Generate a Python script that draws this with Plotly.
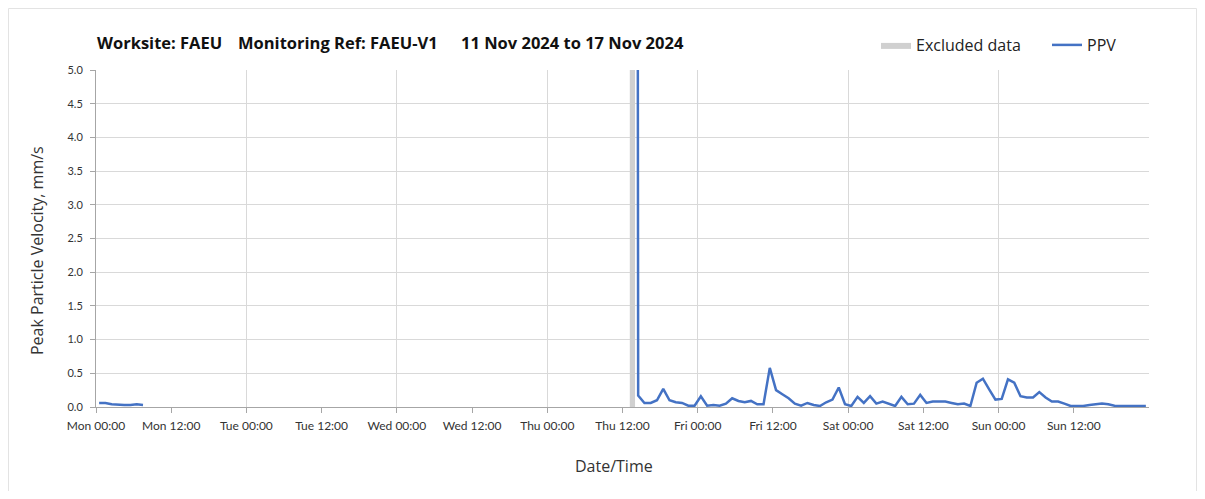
import pandas as pd
import plotly.graph_objects as go

# ---------------- data ----------------
title_parts = ["Worksite: FAEU", "Monitoring Ref: FAEU-V1", "11 Nov 2024 to 17 Nov 2024"]
x_title = "Date/Time"
y_title = "Peak Particle Velocity, mm/s"

x_range = ["2024-11-11 00:00", "2024-11-18 00:00"]

tick_times = pd.date_range("2024-11-11 00:00", periods=14, freq="12h")
tick_labels = ["Mon 00:00", "Mon 12:00", "Tue 00:00", "Tue 12:00", "Wed 00:00", "Wed 12:00",
               "Thu 00:00", "Thu 12:00", "Fri 00:00", "Fri 12:00", "Sat 00:00", "Sat 12:00",
               "Sun 00:00", "Sun 12:00"]
grid_times = pd.date_range("2024-11-11 00:00", periods=8, freq="24h")

# Monday readings (hourly)
mon_start = "2024-11-11 00:30"
mon_ppv = [0.06, 0.06, 0.04, 0.03, 0.03, 0.03, 0.04, 0.03]

# Large event just after the excluded period
spike_time = "2024-11-14 14:22"
spike_ppv = 12.0

# Thursday afternoon to Sunday (hourly)
late_start = "2024-11-14 14:30"
late_ppv = [0.17, 0.06, 0.06, 0.10, 0.27, 0.10, 0.07, 0.06, 0.02, 0.02,
            0.16, 0.02, 0.03, 0.02, 0.05, 0.13, 0.09, 0.07, 0.09, 0.04,
            0.04, 0.58, 0.25, 0.19, 0.13, 0.05, 0.02, 0.06, 0.03, 0.015,
            0.07, 0.11, 0.29, 0.04, 0.015, 0.15, 0.06, 0.16, 0.05, 0.08,
            0.05, 0.015, 0.15, 0.04, 0.05, 0.18, 0.06, 0.08, 0.08, 0.08,
            0.06, 0.04, 0.05, 0.015, 0.36, 0.42, 0.26, 0.11, 0.12, 0.41,
            0.36, 0.16, 0.14, 0.14, 0.22, 0.14, 0.08, 0.08, 0.05, 0.015,
            0.015, 0.015, 0.03, 0.04, 0.05, 0.04, 0.02, 0.015, 0.015, 0.015,
            0.015, 0.015]

excluded_start = "2024-11-14 13:10"
excluded_end = "2024-11-14 14:00"
y_max = 5.0

# ---------------- build series ----------------
mon_times = list(pd.date_range(mon_start, periods=len(mon_ppv), freq="1h"))
late_times = list(pd.date_range(late_start, periods=len(late_ppv), freq="1h"))
ppv_x = mon_times + [None] + [pd.Timestamp(spike_time)] + late_times
ppv_y = mon_ppv + [None] + [spike_ppv] + late_ppv

BLUE = "#4472C4"
GRID = "#d9d9d9"
AXIS = "#a6a6a6"
TICKFONT = "Lato"
TEXTFONT = "Open Sans"

W, H = 1189, 483
ML, MR, MT, MB = 88, 48, 62, 84
PW, PH = W - ML - MR, H - MT - MB


def px_x(px):
    return (px - ML) / PW


def px_y(py):
    return (H - MB - py) / PH


fig = go.Figure()

fig.add_trace(go.Scatter(
    x=[excluded_start, excluded_end, excluded_end, excluded_start, excluded_start],
    y=[0, 0, y_max, y_max, 0],
    mode="lines", fill="toself", fillcolor="#d0d0d0",
    line=dict(width=0, color="#d0d0d0"),
    name="Excluded data", hoverinfo="skip",
))

fig.add_trace(go.Scatter(
    x=ppv_x, y=ppv_y, mode="lines", connectgaps=False,
    line=dict(color=BLUE, width=2.5),
    name="PPV",
))

# invisible trace to carry the daily-grid overlay axis
fig.add_trace(go.Scatter(x=[x_range[0]], y=[0], xaxis="x2", mode="markers",
                         marker=dict(opacity=0), showlegend=False, hoverinfo="skip"))

fig.update_layout(
    width=W, height=H,
    margin=dict(l=ML, r=MR, t=MT, b=MB, autoexpand=False),
    paper_bgcolor="white", plot_bgcolor="white",
    font=dict(family=TEXTFONT, color="#333333"),
    showlegend=True,
    legend=dict(orientation="h", x=px_x(868), xanchor="left", y=px_y(37), yanchor="middle",
                font=dict(size=16, color="#222222", family=TEXTFONT), bgcolor="rgba(0,0,0,0)",
                traceorder="normal", entrywidth=126, entrywidthmode="pixels"),
    xaxis=dict(
        type="date", range=x_range, automargin=False,
        tickvals=list(tick_times), ticktext=tick_labels,
        showgrid=False, zeroline=False,
        showline=True, linecolor=AXIS, linewidth=1,
        ticks="outside", ticklen=5, tickcolor=AXIS, ticklabelstandoff=3,
        tickfont=dict(size=12, color="#333333", family=TICKFONT),
    ),
    xaxis2=dict(
        type="date", range=x_range, overlaying="x", anchor="y", automargin=False,
        tickvals=list(grid_times), showticklabels=False, ticks="",
        showgrid=True, gridcolor=GRID, gridwidth=1, showline=False, zeroline=False,
    ),
    yaxis=dict(
        range=[0, y_max], tickvals=[i * 0.5 for i in range(11)], tickformat=".1f",
        automargin=False,
        showgrid=True, gridcolor=GRID, gridwidth=1, zeroline=False,
        showline=True, linecolor=AXIS, linewidth=1,
        ticks="outside", ticklen=5, tickcolor=AXIS, ticklabelstandoff=5,
        tickfont=dict(size=11, color="#333333", family=TICKFONT),
    ),
)

# outer border of the chart (left, top, right edges)
BORDER = "#e3e3e3"
fig.add_shape(type="line", xref="paper", yref="paper",
              x0=px_x(0.5), x1=px_x(0.5), y0=px_y(H), y1=px_y(0.5),
              line=dict(color=BORDER, width=1), layer="below")
fig.add_shape(type="line", xref="paper", yref="paper",
              x0=px_x(W - 0.5), x1=px_x(W - 0.5), y0=px_y(H), y1=px_y(0.5),
              line=dict(color=BORDER, width=1), layer="below")
fig.add_shape(type="line", xref="paper", yref="paper",
              x0=px_x(0.5), x1=px_x(W - 0.5), y0=px_y(0.5), y1=px_y(0.5),
              line=dict(color=BORDER, width=1), layer="below")

# title parts
title_px = [87, 228, 451]
for txt, px in zip(title_parts, title_px):
    fig.add_annotation(text=f"<b>{txt}</b>", xref="paper", yref="paper",
                       x=px_x(px), y=px_y(34),
                       xanchor="left", yanchor="middle", showarrow=False,
                       font=dict(size=16.5, color="#111111", family=TEXTFONT))

# axis titles
fig.add_annotation(text=x_title, xref="paper", yref="paper",
                   x=px_x(606), y=px_y(458), xanchor="center", yanchor="middle",
                   showarrow=False, font=dict(size=16, color="#333333", family=TEXTFONT))
fig.add_annotation(text=y_title, xref="paper", yref="paper", textangle=-90,
                   x=px_x(29), y=px_y(243), xanchor="center", yanchor="middle",
                   showarrow=False, font=dict(size=16, color="#333333", family=TEXTFONT))

fig.write_html("out.html")
